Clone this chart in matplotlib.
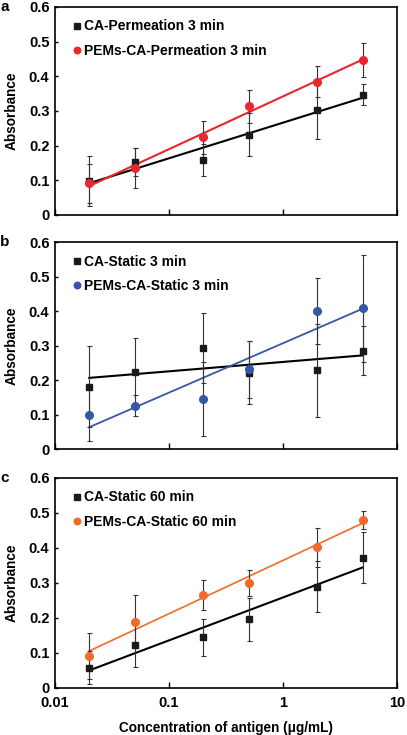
import matplotlib.pyplot as plt
import numpy as np

plt.rcParams['font.family'] = ['Liberation Sans', 'DejaVu Sans']
plt.rcParams['font.weight'] = 'bold'

conc = [0.02, 0.05, 0.2, 0.5, 2, 5]

# panel a
a_ca = [0.097, 0.152, 0.158, 0.232, 0.303, 0.347]
a_ca_err = [0.072, 0.040, 0.046, 0.063, 0.085, 0.030]
a_pem = [0.091, 0.135, 0.224, 0.313, 0.385, 0.447]
a_pem_err = [0.055, 0.058, 0.047, 0.048, 0.046, 0.048]

# panel b
b_ca = [0.181, 0.223, 0.294, 0.222, 0.229, 0.285]
b_ca_err = [0.118, 0.098, 0.101, 0.090, 0.135, 0.071]
b_pem = [0.100, 0.126, 0.145, 0.231, 0.401, 0.408]
b_pem_err = [0.076, 0.030, 0.108, 0.082, 0.096, 0.155]

# panel c
c_ca = [0.058, 0.123, 0.145, 0.196, 0.289, 0.372]
c_ca_err = [0.047, 0.063, 0.053, 0.061, 0.073, 0.073]
c_pem = [0.091, 0.189, 0.265, 0.301, 0.402, 0.481]
c_pem_err = [0.066, 0.076, 0.043, 0.037, 0.056, 0.026]

panels = [
    ('a', 'CA-Permeation 3 min', a_ca, a_ca_err,
     'PEMs-CA-Permeation 3 min', a_pem, a_pem_err, '#e8262d', 1.5),
    ('b', 'CA-Static 3 min', b_ca, b_ca_err,
     'PEMs-CA-Static 3 min', b_pem, b_pem_err, '#3558a6', 1.3),
    ('c', 'CA-Static 60 min', c_ca, c_ca_err,
     'PEMs-CA-Static 60 min', c_pem, c_pem_err, '#f26a2a', 1.2),
]

fig = plt.figure(figsize=(4.07, 7.35), dpi=100)
rects = [(0.135, 0.7075, 0.840, 0.283),
         (0.135, 0.389, 0.840, 0.2816),
         (0.135, 0.064, 0.840, 0.2857)]

x = np.array(conc)
lx = np.log10(x)
for rect, (tag, l1, y1, e1, l2, y2, e2, col, lw2) in zip(rects, panels):
    ax = fig.add_axes(rect)
    ax.set_xscale('log')
    ax.set_xlim(0.01, 10)
    ax.set_ylim(0, 0.6)

    # trend lines fitted on log10(concentration)
    for ys, c, lw in [(y1, 'black', 1.5), (y2, col, lw2)]:
        k, b = np.polyfit(lx, ys, 1)
        ax.plot(x, k * lx + b, color=c, lw=lw, zorder=2)

    ax.errorbar(x, y1, yerr=e1, fmt='none', ecolor='#333333',
                elinewidth=0.8, capsize=1.8, capthick=0.8, zorder=3)
    ax.errorbar(x, y2, yerr=e2, fmt='none', ecolor='#333333',
                elinewidth=0.8, capsize=1.8, capthick=0.8, zorder=3)
    ax.plot(x, y1, 's', color='#1a1a1a', ms=5, ls='none', label=l1, zorder=4)
    ax.plot(x, y2, 'o', color=col, ms=5.5, ls='none', label=l2, zorder=4)

    ax.legend(loc='upper left', frameon=False, fontsize=10,
              handletextpad=0.05, handlelength=0.9, labelspacing=0.75,
              markerscale=0.85, borderaxespad=0.5,
              bbox_to_anchor=(0.01, 1.0))

    ax.set_yticks([0, 0.1, 0.2, 0.3, 0.4, 0.5, 0.6])
    ax.set_yticklabels(['0', '0.1', '0.2', '0.3', '0.4', '0.5', '0.6'])
    ax.set_xticks([0.01, 0.1, 1, 10])
    ax.minorticks_off()
    ax.tick_params(axis='y', direction='in', length=2, width=1, labelsize=10.5, pad=4)
    ax.tick_params(axis='x', direction='in', length=4, width=1, labelsize=10.5, pad=6)
    if tag != 'c':
        ax.set_xticklabels([])
    else:
        ax.set_xticklabels(['0.01', '0.1', '1', '10'])
        ax.set_xlabel('Concentration of antigen (\u03bcg/mL)', fontsize=9.8,
                      fontweight='bold', labelpad=8)
    for s in ax.spines.values():
        s.set_linewidth(1.2)
    ax.set_ylabel('Absorbance', fontsize=9.8, fontweight='bold', labelpad=7)
    ax.text(-0.16, 1.0, tag, transform=ax.transAxes, fontsize=11,
            fontweight='bold', va='center', ha='left')

fig.savefig('out.png', dpi=100)
